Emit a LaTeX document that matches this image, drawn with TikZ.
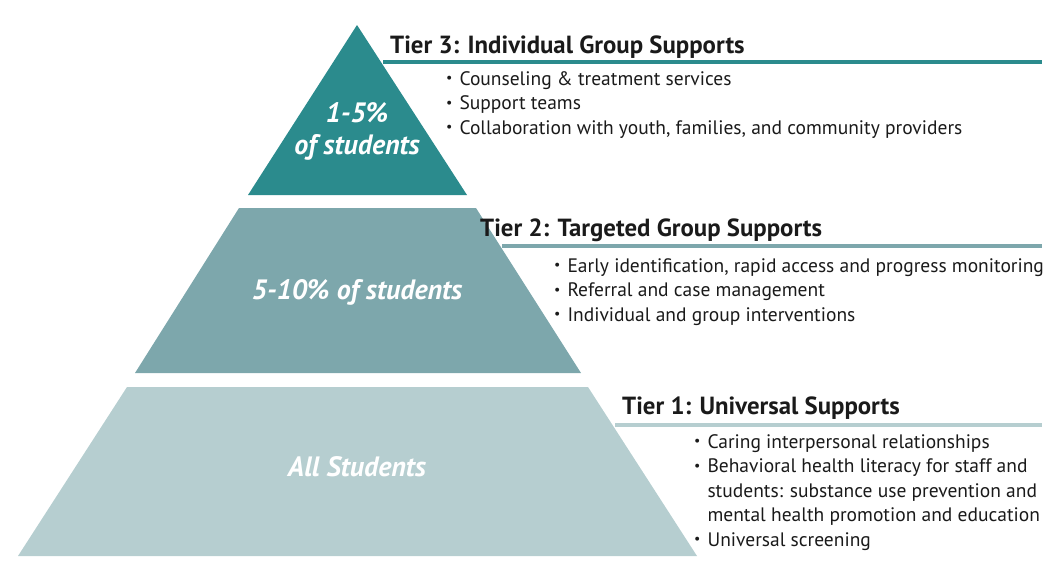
\documentclass[tikz,border=0pt]{standalone}
\usepackage{fontspec}
\setmainfont{PT Sans}
\usetikzlibrary{positioning}
\definecolor{tealdark}{HTML}{2B8B8D}
\definecolor{tealmid}{HTML}{7DA7AC}
\definecolor{teallight}{HTML}{B6CED0}
\definecolor{ink}{HTML}{1A1A1A}
\newcommand{\blt}{\raisebox{0.12em}{\fontsize{14}{14}\selectfont\textbullet}}

\begin{document}
\begin{tikzpicture}[
  x=1pt, y=-1pt,
  share/.style={font=\fontsize{28}{32}\selectfont\bfseries\itshape,
                text=white, align=center, inner sep=0pt},
  tiertitle/.style={anchor=base west, inner sep=0pt, text=ink,
                    font=\fontsize{24.8}{28}\selectfont\bfseries},
  bullets/.style={anchor=base west, inner sep=0pt, text=ink,
                  font=\fontsize{19.5}{24.5}\selectfont},
  rule/.style={line width=4pt}
]
\useasboundingbox (0,0) rectangle (1060,574);

% Pyramid, top to bottom
\fill[tealdark]  (357,25) -- (467,195) -- (248,195) -- cycle;
\fill[tealmid]   (239,208) -- (476,208) -- (581,373) -- (135,373) -- cycle;
\fill[teallight] (127,387) -- (588,387) -- (697,556) -- (18,556) -- cycle;

% Share of students in each tier
\node[share] (top)  at (357,131) {1-5\%\\of students};
\node[share] (mid)  at (357,292) {5-10\% of students};
\node[share] (base) at (357,467) {All Students};

% Rules from the pyramid edge to the right margin
\coordinate (r3a) at (383,62);  \coordinate (r3b) at (1042,62);
\coordinate (r2a) at (502,246); \coordinate (r2b) at (1042,246);
\coordinate (r1a) at (615,425); \coordinate (r1b) at (1042,425);
\foreach \a/\b/\c in {r3a/r3b/tealdark, r2a/r2b/tealmid, r1a/r1b/teallight}{
  \draw[rule, \c] (\a) -- (\b);
}

% Tier headings
\node[tiertitle] (t3) at (390,53)  {Tier 3: Individual Group Supports};
\node[tiertitle] (t2) at (480,236) {Tier 2: Targeted Group Supports};
\node[tiertitle] (t1) at (622,414) {Tier 1: Universal Supports};

% Supports per tier
\node[bullets] (b3) at (446,85) {\begin{tabular}[t]{@{}l@{\hspace{7pt}}l@{}}
  \blt & Counseling \& treatment services\\
  \blt & Support teams\\
  \blt & Collaboration with youth, families, and community providers
\end{tabular}};
\node[bullets] (b2) at (554,272) {\begin{tabular}[t]{@{}l@{\hspace{7pt}}l@{}}
  \blt & Early identification, rapid access and progress monitoring\\
  \blt & Referral and case management\\
  \blt & Individual and group interventions
\end{tabular}};
\node[bullets] (b1) at (694,448) {\begin{tabular}[t]{@{}l@{\hspace{7pt}}l@{}}
  \blt & Caring interpersonal relationships\\
  \blt & Behavioral health literacy for staff and\\
       & students: substance use prevention and\\
       & mental health promotion and education\\
  \blt & Universal screening
\end{tabular}};

\end{tikzpicture}
\end{document}
